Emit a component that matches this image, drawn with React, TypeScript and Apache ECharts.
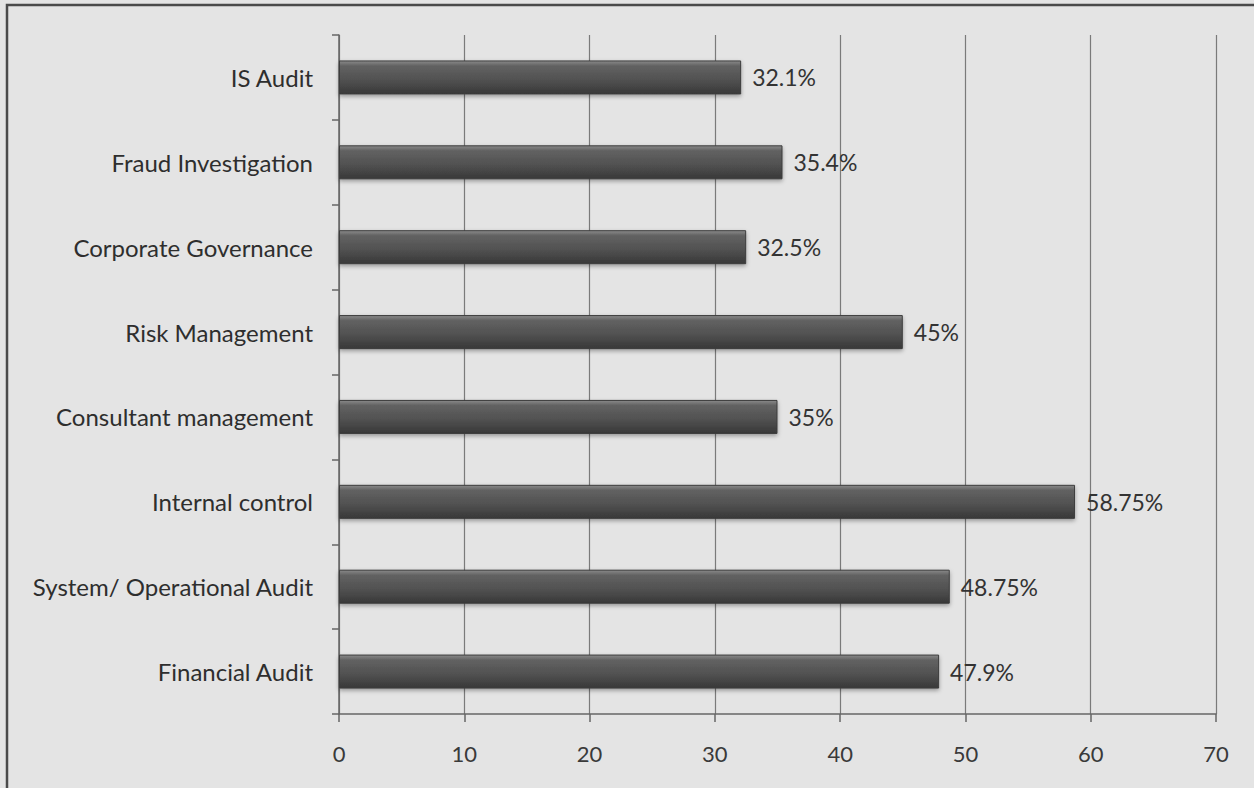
import React, { useEffect, useRef } from "react";
import * as echarts from "echarts";

const categories = [
  "Financial Audit",
  "System/ Operational Audit",
  "Internal control",
  "Consultant management",
  "Risk Management",
  "Corporate Governance",
  "Fraud Investigation",
  "IS Audit",
];
const values = [47.9, 48.75, 58.75, 35, 45, 32.5, 35.4, 32.1];
const xTicks = { min: 0, max: 70, interval: 10 };

export default function App() {
  const ref = useRef<HTMLDivElement>(null);
  useEffect(() => {
    document.body.style.margin = "0";
    const chart = echarts.init(ref.current!, undefined, { renderer: "svg" });
    chart.setOption({
      animation: false,
      backgroundColor: "#e4e4e4",
      textStyle: { fontFamily: "Lato, 'Open Sans', sans-serif" },
      graphic: [
        {
          type: "rect",
          shape: { x: 7, y: 5, width: 1270, height: 800 },
          style: { fill: "none", stroke: "#4a4a4a", lineWidth: 2.5 },
          silent: true,
        },
      ],
      grid: { left: 339, right: 38, top: 35, bottom: 74 },
      xAxis: {
        type: "value",
        min: xTicks.min,
        max: xTicks.max,
        interval: xTicks.interval,
        axisLine: { show: true, lineStyle: { color: "#666666", width: 1.5 } },
        axisTick: { show: true, length: 8, lineStyle: { color: "#666666", width: 1.5 } },
        splitLine: { show: true, lineStyle: { color: "#7a7a7a", width: 1.2 } },
        axisLabel: { fontSize: 22, color: "#3a3a3a", margin: 28 },
      },
      yAxis: {
        type: "category",
        data: categories,
        axisLine: { show: true, lineStyle: { color: "#666666", width: 1.5 } },
        axisTick: { show: true, length: 7, lineStyle: { color: "#666666", width: 1.5 } },
        axisLabel: { fontSize: 24, color: "#2e2e2e", margin: 26 },
      },
      series: [
        {
          type: "bar",
          data: values,
          barWidth: 34,
          itemStyle: {
            color: new echarts.graphic.LinearGradient(0, 0, 0, 1, [
              { offset: 0, color: "#8a8a8a" },
              { offset: 0.15, color: "#626262" },
              { offset: 0.6, color: "#505050" },
              { offset: 1, color: "#383838" },
            ]),
            borderColor: "#3c3c3c",
            borderWidth: 1,
            shadowColor: "rgba(0,0,0,0.35)",
            shadowBlur: 4,
            shadowOffsetY: 2,
          },
          label: {
            show: true,
            position: "right",
            distance: 11,
            fontSize: 23,
            color: "#333333",
            formatter: (p: any) => `${p.value}%`,
          },
        },
      ],
    });
    return () => chart.dispose();
  }, []);
  return (
    <div
      ref={ref}
      style={{ position: "absolute", left: 0, top: 0, width: 1254, height: 788 }}
    />
  );
}
